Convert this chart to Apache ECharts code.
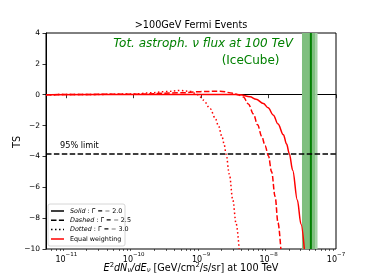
<!DOCTYPE html>
<html>
<head>
<meta charset="utf-8">
<script src="https://cdn.jsdelivr.net/npm/echarts@6/dist/echarts.min.js"></script>
<style>
html,body{margin:0;padding:0;background:#fff;}
#c{width:374px;height:280px;}
</style>
</head>
<body>
<div id="c"></div>
<script>
// ---- data ----
const xSolid  = [5e-12, 1e-10, 9.66e-10, 2.69e-9, 3.78e-9, 5.32e-9, 6.53e-9, 8.38e-9, 9.84e-9, 1.18e-8, 1.38e-8, 1.66e-8, 1.85e-8, 2.03e-8, 2.28e-8, 2.67e-8, 3.03e-8, 3.39e-8];
const tsSolid = [0, 0.01, 0.02, 0.02, 0.0, -0.14, -0.3, -0.57, -0.85, -1.33, -1.9, -2.6, -3.2, -3.82, -4.9, -6.83, -8.4, -10];

const xDashed  = [5e-12, 1e-10, 4.89e-10, 9.66e-10, 1.91e-9, 2.98e-9, 3.53e-9, 4.23e-9, 5.02e-9, 5.96e-9, 6.87e-9, 7.93e-9, 8.87e-9, 9.93e-9, 1.11e-8, 1.25e-8, 1.38e-8, 1.52e-8];
const tsDashed = [0, 0.03, 0.12, 0.2, 0.23, 0.1, 0.0, -0.15, -0.6, -1.25, -1.95, -2.7, -3.3, -3.95, -5.0, -6.6, -8.3, -10];

const xDotted  = [5e-12, 3.19e-11, 1e-10, 1.76e-10, 2.93e-10, 4.89e-10, 6.87e-10, 9.03e-10, 1.08e-9, 1.36e-9, 1.61e-9, 1.80e-9, 2.05e-9, 2.20e-9, 2.34e-9, 2.62e-9, 2.95e-9, 3.30e-9, 3.66e-9];
const tsDotted = [0, 0.02, 0.05, 0.12, 0.2, 0.27, 0.22, 0.0, -0.35, -0.9, -1.5, -2.0, -2.75, -3.25, -3.84, -5.15, -6.83, -8.35, -10];

const limitTS = -3.84;
const iceCubeFlux = 4.24e-8;
const iceCubeBand = [3.13e-8, 4.89e-8];
const iceCubeBandOuter = [4.89e-8, 5.32e-8];

const xMajorTicks = [1e-11, 1e-10, 1e-9, 1e-8, 1e-7];
const xMinorTicks = [6e-12, 7e-12, 8e-12, 9e-12,
  2e-11, 3e-11, 4e-11, 5e-11, 6e-11, 7e-11, 8e-11, 9e-11,
  2e-10, 3e-10, 4e-10, 5e-10, 6e-10, 7e-10, 8e-10, 9e-10,
  2e-9, 3e-9, 4e-9, 5e-9, 6e-9, 7e-9, 8e-9, 9e-9,
  2e-8, 3e-8, 4e-8, 5e-8, 6e-8, 7e-8, 8e-8, 9e-8];
const xMin = 5e-12, xMax = 1e-7;
const yMin = -10, yMax = 4, yStep = 2;

const FONT = 'DejaVu Sans';
const pair = (xs, ys) => xs.map((v, i) => [v, ys[i]]);

const chart = echarts.init(document.getElementById('c'), null, {renderer: 'canvas'});

const xLabelFmt = v => {
  const e = Math.round(Math.log10(v));
  if (Math.abs(v - Math.pow(10, e)) / v > 1e-6) return '';
  return '{b|10}{s|' + (e < 0 ? '\u2212' : '') + Math.abs(e) + '}';
};

const option = {
  backgroundColor: '#fff',
  animation: false,
  grid: {left: 46, right: 38, top: 33, bottom: 31, show: true, borderColor: '#000', borderWidth: 1, backgroundColor: 'transparent'},
  xAxis: [{
    type: 'log', logBase: 10, min: xMin, max: xMax, position: 'bottom',
    axisLine: {show: true, lineStyle: {color: '#000', width: 1}},
    axisTick: {show: true, inside: false, length: 3.5, customValues: xMajorTicks, lineStyle: {color: '#000', width: 0.8}},
    axisLabel: {show: true, customValues: xMajorTicks, formatter: xLabelFmt, margin: 3, color: '#000',
      rich: {
        b: {fontFamily: FONT, fontSize: 8, color: '#000', lineHeight: 12, verticalAlign: 'bottom'},
        s: {fontFamily: FONT, fontSize: 5.5, color: '#000', lineHeight: 6, verticalAlign: 'top'}
      }},
    splitLine: {show: false}, minorTick: {show: false}
  }, {
    type: 'log', logBase: 10, min: xMin, max: xMax, position: 'bottom',
    axisLine: {show: false},
    axisTick: {show: true, inside: false, length: 2, customValues: xMinorTicks, lineStyle: {color: '#000', width: 0.6}},
    axisLabel: {show: false},
    splitLine: {show: false}
  }],
  yAxis: {
    type: 'value', min: yMin, max: yMax, interval: yStep,
    axisLine: {show: true, lineStyle: {color: '#000', width: 1}},
    axisTick: {show: true, inside: false, length: 3.5, lineStyle: {color: '#000', width: 0.8}},
    axisLabel: {fontFamily: FONT, fontSize: 7.5, color: '#000', margin: 6,
      formatter: v => String(v).replace('-', '\u2212')},
    splitLine: {show: false}
  },
  series: [
    {
      name: 'band', type: 'line', data: [], z: 1,
      markArea: {silent: true, z: 1, data: [
        [{xAxis: iceCubeBand[0], itemStyle: {color: 'rgb(127,191,127)', opacity: 1}}, {xAxis: iceCubeBand[1]}],
        [{xAxis: iceCubeBandOuter[0], itemStyle: {color: 'rgb(165,210,165)', opacity: 1}}, {xAxis: iceCubeBandOuter[1]}]
      ]}
    },
    {
      name: 'icecube', type: 'line', z: 3, showSymbol: false, silent: true,
      data: [[iceCubeFlux, yMin], [iceCubeFlux, yMax]],
      lineStyle: {color: '#008000', width: 2}
    },
    {
      name: 'limit', type: 'line', z: 3, showSymbol: false, silent: true,
      data: [[xMin, limitTS], [xMax, limitTS]],
      lineStyle: {color: '#000', width: 1.5, type: [5.5, 2.4]}
    },
    {name: 'Solid', type: 'line', z: 4, data: pair(xSolid, tsSolid), showSymbol: false, smooth: 0.35, smoothMonotone: 'x', clip: true,
      lineStyle: {color: '#ff0000', width: 1.5, type: 'solid'}},
    {name: 'Dashed', type: 'line', z: 4, data: pair(xDashed, tsDashed), showSymbol: false, smooth: 0.35, smoothMonotone: 'x', clip: true,
      lineStyle: {color: '#ff0000', width: 1.5, type: [5.5, 2.4]}},
    {name: 'Dotted', type: 'line', z: 4, data: pair(xDotted, tsDotted), showSymbol: false, smooth: 0.35, smoothMonotone: 'x', clip: true,
      lineStyle: {color: '#ff0000', width: 1.5, type: [1.5, 2.5]}}
  ],
  graphic: [
    {type: 'text', x: 191, y: 25, style: {text: '>100GeV Fermi Events', font: '9.7px "DejaVu Sans"', fill: '#000', textAlign: 'center', textVerticalAlign: 'middle'}},
    {type: 'text', x: 293, y: 44, style: {text: 'Tot. astroph. \u03bd flux at 100 TeV', font: 'italic 12px "DejaVu Sans"', fill: '#008000', textAlign: 'right', textVerticalAlign: 'middle'}},
    {type: 'text', x: 279.5, y: 61, style: {text: '(IceCube)', font: '12px "DejaVu Sans"', fill: '#008000', textAlign: 'right', textVerticalAlign: 'middle'}},
    {type: 'text', x: 60, y: 146, style: {text: '95% limit', font: '8.2px "DejaVu Sans"', fill: '#000', textAlign: 'left', textVerticalAlign: 'middle'}},
    {type: 'text', x: 17, y: 142, rotation: Math.PI / 2, style: {text: 'TS', font: '9.7px "DejaVu Sans"', fill: '#000', textAlign: 'center', textVerticalAlign: 'middle'}},
    {type: 'text', x: 191, y: 268, style: {
      text: '{i|E}{sp|2}{i|dN}{sb|\u03bd}{i|/dE}{sb|\u03bd}{r| [GeV/cm}{sp|2}{r|/s/sr] at 100 TeV}',
      textAlign: 'center', textVerticalAlign: 'middle',
      rich: {
        i: {fontFamily: FONT, fontStyle: 'italic', fontSize: 9.7, fill: '#000', lineHeight: 12, verticalAlign: 'middle'},
        r: {fontFamily: FONT, fontSize: 9.7, fill: '#000', lineHeight: 12, verticalAlign: 'middle'},
        sp: {fontFamily: FONT, fontSize: 6.8, fill: '#000', lineHeight: 6, verticalAlign: 'top'},
        sb: {fontFamily: FONT, fontStyle: 'italic', fontSize: 6.8, fill: '#000', lineHeight: 6, verticalAlign: 'bottom'}
      }}},
    // legend
    {type: 'rect', shape: {x: 48, y: 204, width: 77, height: 42, r: 2}, style: {fill: 'rgba(255,255,255,0.8)', stroke: '#cccccc', lineWidth: 0.8}},
    {type: 'line', shape: {x1: 51, y1: 211, x2: 64, y2: 211}, style: {stroke: '#000', lineWidth: 1.5}},
    {type: 'line', shape: {x1: 51, y1: 220.3, x2: 64, y2: 220.3}, style: {stroke: '#000', lineWidth: 1.5, lineDash: [5.5, 2.4]}},
    {type: 'line', shape: {x1: 51, y1: 229.6, x2: 64, y2: 229.6}, style: {stroke: '#000', lineWidth: 1.5, lineDash: [1.5, 2.5]}},
    {type: 'line', shape: {x1: 51, y1: 239, x2: 64, y2: 239}, style: {stroke: '#ff0000', lineWidth: 1.5}},
    {type: 'text', x: 70, y: 211, style: {text: '{i|Solid}{r| : \u0393 = \u2212 2.0}', textVerticalAlign: 'middle',
      rich: {i: {fontFamily: FONT, fontStyle: 'italic', fontSize: 6.4, fill: '#000'}, r: {fontFamily: FONT, fontSize: 6.4, fill: '#000'}}}},
    {type: 'text', x: 70, y: 220.3, style: {text: '{i|Dashed}{r| : \u0393 = \u2212 2.5}', textVerticalAlign: 'middle',
      rich: {i: {fontFamily: FONT, fontStyle: 'italic', fontSize: 6.4, fill: '#000'}, r: {fontFamily: FONT, fontSize: 6.4, fill: '#000'}}}},
    {type: 'text', x: 70, y: 229.6, style: {text: '{i|Dotted}{r| : \u0393 = \u2212 3.0}', textVerticalAlign: 'middle',
      rich: {i: {fontFamily: FONT, fontStyle: 'italic', fontSize: 6.4, fill: '#000'}, r: {fontFamily: FONT, fontSize: 6.4, fill: '#000'}}}},
    {type: 'text', x: 70, y: 239, style: {text: 'Equal weighting', font: '6.4px "DejaVu Sans"', fill: '#000', textVerticalAlign: 'middle'}}
  ]
};
chart.setOption(option);
</script>
</body>
</html>
